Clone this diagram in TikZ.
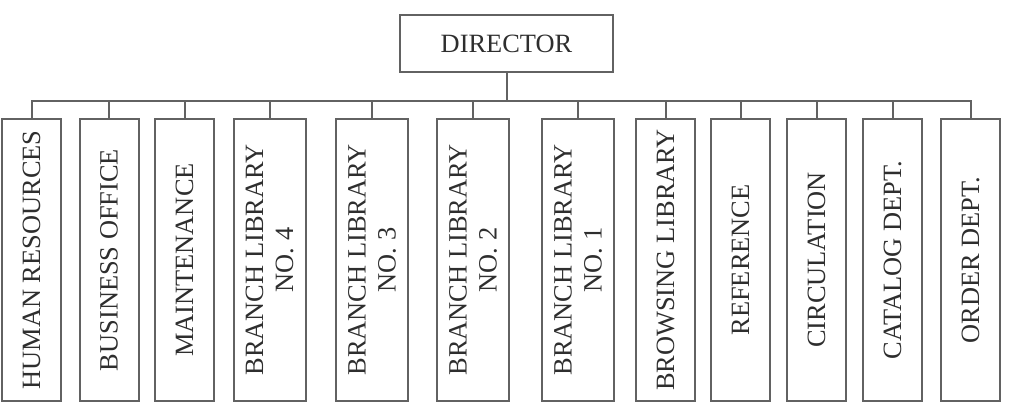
\documentclass[tikz,border=0pt]{standalone}
\usepackage{fontspec}
\setmainfont{Liberation Serif}
\usepackage{tikz}
\usetikzlibrary{positioning,calc}
\definecolor{ocLine}{HTML}{626262}
\definecolor{ocText}{HTML}{2E2E2E}
\tikzset{
    ocHead/.style={
        draw=ocLine,
        text=ocText,
        minimum width=106.5pt,
        minimum height=28.5pt,
        inner sep=0pt,
        line width=1pt
    },
    ocUnit/.style={
        draw=ocLine,
        text=ocText,
        rotate=90,
        minimum width=141pt,
        minimum height=29.5pt,
        inner sep=0pt,
        align=center,
        line width=1pt
    },
    ocWide/.style={ocUnit,minimum height=36pt},
    ocLink/.style={draw=ocLine,line width=1pt}
}

\begin{document}
\begin{tikzpicture}[x=0.5pt,y=0.5pt,font=\fontsize{13.2}{15}\selectfont]
        \useasboundingbox (0,0) rectangle (1011,407);

        % head
        \node[ocHead] (director) at (506.5,363.5) {DIRECTOR};
        \coordinate (bus) at (506.5,306);

        % departments
        \node[ocUnit] (hr) at (31.5,147) {HUMAN RESOURCES};
        \node[ocUnit] (office) at (109,147) {BUSINESS OFFICE};
        \node[ocUnit] (maint) at (184.5,147) {MAINTENANCE};
        \node[ocWide] (branchD) at (269.5,147) {BRANCH LIBRARY\\NO. 4};
        \node[ocWide] (branchC) at (372,147) {BRANCH LIBRARY\\NO. 3};
        \node[ocWide] (branchB) at (473,147) {BRANCH LIBRARY\\NO. 2};
        \node[ocWide] (branchA) at (578,147) {BRANCH LIBRARY\\NO. 1};
        \node[ocUnit] (browse) at (665.5,147) {BROWSING LIBRARY};
        \node[ocUnit] (ref) at (740.5,147) {REFERENCE};
        \node[ocUnit] (circ) at (816.5,147) {CIRCULATION};
        \node[ocUnit] (catalog) at (892.5,147) {CATALOG DEPT.};
        \node[ocUnit] (order) at (970.5,147) {ORDER DEPT.};

        % connectors
        \draw[ocLink] (director.south) -- (bus);
        \draw[ocLink] (hr.east) -- (hr.east |- bus) -- (order.east |- bus) -- (order.east);
        \foreach \unit in {office,maint,branchD,branchC,branchB,branchA,browse,ref,circ,catalog}
            \draw[ocLink] (\unit.east) -- (\unit.east |- bus);
\end{tikzpicture}
\end{document}
